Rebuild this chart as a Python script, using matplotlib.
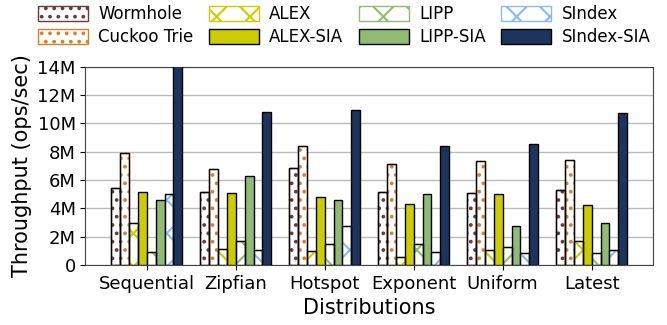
import numpy as np
import matplotlib
matplotlib.use("Agg")
import matplotlib.pyplot as plt
from matplotlib.ticker import FuncFormatter

# throughput in millions of ops/sec per workload distribution
distributions = ["Sequential", "Zipfian", "Hotspot", "Exponent", "Uniform", "Latest"]
wormhole    = [5.45, 5.14, 6.86, 5.18, 5.07, 5.30]
cuckoo_trie = [7.90, 6.76, 8.36, 7.14, 7.35, 7.42]
alex        = [2.95, 1.10, 0.97, 0.54, 1.04, 1.67]
alex_sia    = [5.18, 5.07, 4.81, 4.29, 4.97, 4.22]
lipp        = [0.90, 1.67, 1.48, 1.48, 1.27, 0.87]
lipp_sia    = [4.57, 6.29, 4.57, 5.02, 2.76, 2.97]
sindex      = [5.04, 1.04, 2.76, 0.90, 0.83, 1.04]
sindex_sia  = [14.6, 10.81, 10.95, 8.36, 8.53, 10.72]

series = [
    ("Wormhole", wormhole, "white", "#6b3a3a", ".."),
    ("Cuckoo Trie", cuckoo_trie, "white", "#d6822a", ".."),
    ("ALEX", alex, "white", "#cccc00", "x"),
    ("ALEX-SIA", alex_sia, "#cccc00", "black", None),
    ("LIPP", lipp, "white", "#8fbc72", "x"),
    ("LIPP-SIA", lipp_sia, "#8fbc72", "black", None),
    ("SIndex", sindex, "white", "#8ab8ff", "x"),
    ("SIndex-SIA", sindex_sia, "#1c355e", "black", None),
]

plt.rcParams["hatch.linewidth"] = 1.5
fig, ax = plt.subplots(figsize=(6.67, 3.25), dpi=100)

x = np.arange(len(distributions))
width = 0.1
for i, (name, vals, face, edge, hatch) in enumerate(series):
    pos = x + (i - 3.5) * width
    vals_m = np.array(vals) * 1e6
    if hatch:
        # hatch takes the edge color, so draw the outline separately in black
        ax.bar(pos, vals_m, width, color=face, edgecolor=edge, hatch=hatch,
               linewidth=1.0, label=name, zorder=3)
        ax.bar(pos, vals_m, width, fill=False, edgecolor="black",
               linewidth=1.0, zorder=4)
    else:
        ax.bar(pos, vals_m, width, color=face, edgecolor=edge,
               linewidth=1.0, label=name, zorder=3)

ax.set_ylim(0, 14e6)
ax.set_xlim(-0.69, 5.69)
ax.set_yticks(np.arange(0, 14.1e6, 2e6))
ax.yaxis.set_major_formatter(FuncFormatter(lambda v, p: "0" if v == 0 else f"{v/1e6:.0f}M"))
ax.set_xticks(x)
ax.set_xticklabels(distributions)
ax.tick_params(axis="both", labelsize=13)
ax.set_xlabel("Distributions", fontsize=15)
ax.set_ylabel("Throughput (ops/sec)", fontsize=15)
ax.yaxis.grid(True, color="#bbbbbb", linewidth=1.0, zorder=0)
ax.set_axisbelow(True)
for s in ax.spines.values():
    s.set_color("#444444")

fig.legend(loc="upper center", bbox_to_anchor=(0.516, 1.03), ncol=4, frameon=False,
           fontsize=12, handlelength=3.0, handleheight=1.0, handletextpad=0.6,
           columnspacing=0.95, labelspacing=0.3)

fig.subplots_adjust(left=0.128, right=0.979, top=0.795, bottom=0.185)
fig.savefig("out.png", dpi=100)
